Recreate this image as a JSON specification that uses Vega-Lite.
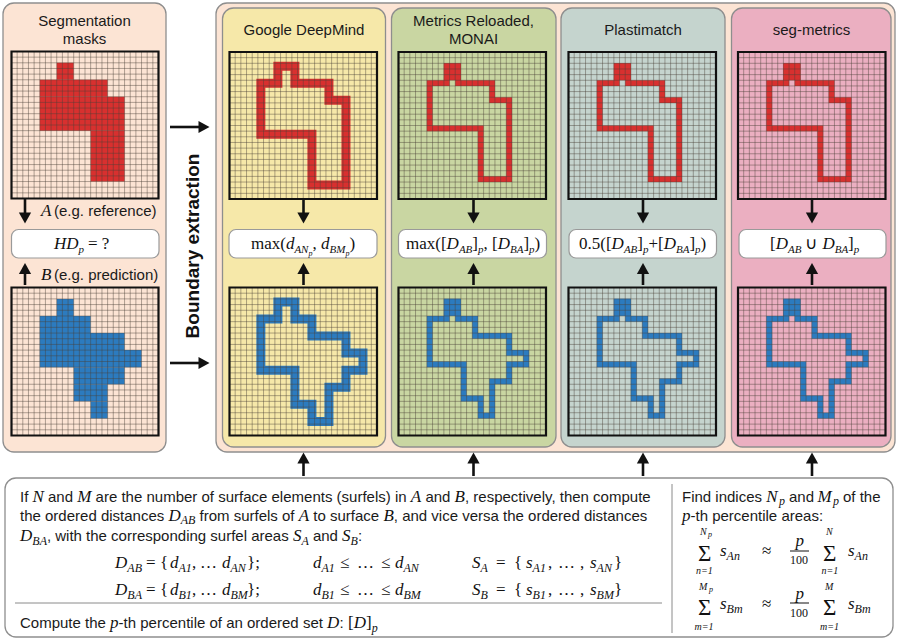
{
"$schema":"https://vega.github.io/schema/vega-lite/v6.json",
"width":897,"height":640,"padding":0,
"autosize":{"type":"fit","contains":"padding"},
"background":"#ffffff",
"config":{"view":{"stroke":null}},
"resolve":{"scale":{"x":"independent","y":"independent"}},
"datasets":{
"k":[{"k":0},{"k":1},{"k":2},{"k":3},{"k":4},{"k":5},{"k":6},{"k":7},{"k":8},{"k":9},{"k":10},{"k":11},{"k":12},{"k":13},{"k":14},{"k":15},{"k":16},{"k":17},{"k":18},{"k":19},{"k":20},{"k":21},{"k":22},{"k":23},{"k":24},{"k":25},{"k":26}],
"mask":[
{"m":"A","c0":8,"c1":11,"r0":2,"r1":5},{"m":"A","c0":5,"c1":17,"r0":5,"r1":8},{"m":"A","c0":5,"c1":20,"r0":8,"r1":14},{"m":"A","c0":14,"c1":20,"r0":14,"r1":23},
{"m":"B","c0":8,"c1":11,"r0":2,"r1":5},{"m":"B","c0":5,"c1":14,"r0":5,"r1":8},{"m":"B","c0":5,"c1":20,"r0":8,"r1":11},{"m":"B","c0":5,"c1":23,"r0":11,"r1":14},{"m":"B","c0":11,"c1":20,"r0":14,"r1":17},{"m":"B","c0":11,"c1":17,"r0":17,"r1":20},{"m":"B","c0":14,"c1":17,"r0":20,"r1":23}],
"outline":[
{"m":"A","i":0,"x":8,"y":2},{"m":"A","i":1,"x":11,"y":2},{"m":"A","i":2,"x":11,"y":5},{"m":"A","i":3,"x":17,"y":5},{"m":"A","i":4,"x":17,"y":8},{"m":"A","i":5,"x":20,"y":8},{"m":"A","i":6,"x":20,"y":23},{"m":"A","i":7,"x":14,"y":23},{"m":"A","i":8,"x":14,"y":14},{"m":"A","i":9,"x":5,"y":14},{"m":"A","i":10,"x":5,"y":5},{"m":"A","i":11,"x":8,"y":5},{"m":"A","i":12,"x":8,"y":2},
{"m":"B","i":0,"x":8,"y":2},{"m":"B","i":1,"x":11,"y":2},{"m":"B","i":2,"x":11,"y":5},{"m":"B","i":3,"x":14,"y":5},{"m":"B","i":4,"x":14,"y":8},{"m":"B","i":5,"x":20,"y":8},{"m":"B","i":6,"x":20,"y":11},{"m":"B","i":7,"x":23,"y":11},{"m":"B","i":8,"x":23,"y":14},{"m":"B","i":9,"x":20,"y":14},{"m":"B","i":10,"x":20,"y":17},{"m":"B","i":11,"x":17,"y":17},{"m":"B","i":12,"x":17,"y":23},{"m":"B","i":13,"x":14,"y":23},{"m":"B","i":14,"x":14,"y":20},{"m":"B","i":15,"x":11,"y":20},{"m":"B","i":16,"x":11,"y":14},{"m":"B","i":17,"x":5,"y":14},{"m":"B","i":18,"x":5,"y":5},{"m":"B","i":19,"x":8,"y":5},{"m":"B","i":20,"x":8,"y":2}],
"inner":[
{"m":"A","i":0,"x":8.5,"y":2.5},{"m":"A","i":1,"x":10.5,"y":2.5},{"m":"A","i":2,"x":10.5,"y":5.5},{"m":"A","i":3,"x":16.5,"y":5.5},{"m":"A","i":4,"x":16.5,"y":8.5},{"m":"A","i":5,"x":19.5,"y":8.5},{"m":"A","i":6,"x":19.5,"y":22.5},{"m":"A","i":7,"x":14.5,"y":22.5},{"m":"A","i":8,"x":14.5,"y":13.5},{"m":"A","i":9,"x":5.5,"y":13.5},{"m":"A","i":10,"x":5.5,"y":5.5},{"m":"A","i":11,"x":8.5,"y":5.5},{"m":"A","i":12,"x":8.5,"y":2.5},
{"m":"B","i":0,"x":8.5,"y":2.5},{"m":"B","i":1,"x":10.5,"y":2.5},{"m":"B","i":2,"x":10.5,"y":5.5},{"m":"B","i":3,"x":13.5,"y":5.5},{"m":"B","i":4,"x":13.5,"y":8.5},{"m":"B","i":5,"x":19.5,"y":8.5},{"m":"B","i":6,"x":19.5,"y":11.5},{"m":"B","i":7,"x":22.5,"y":11.5},{"m":"B","i":8,"x":22.5,"y":13.5},{"m":"B","i":9,"x":19.5,"y":13.5},{"m":"B","i":10,"x":19.5,"y":16.5},{"m":"B","i":11,"x":16.5,"y":16.5},{"m":"B","i":12,"x":16.5,"y":22.5},{"m":"B","i":13,"x":14.5,"y":22.5},{"m":"B","i":14,"x":14.5,"y":19.5},{"m":"B","i":15,"x":11.5,"y":19.5},{"m":"B","i":16,"x":11.5,"y":13.5},{"m":"B","i":17,"x":5.5,"y":13.5},{"m":"B","i":18,"x":5.5,"y":5.5},{"m":"B","i":19,"x":8.5,"y":5.5},{"m":"B","i":20,"x":8.5,"y":2.5}],
"panels":[
{"id":"Segmentation masks","x":3,"x2":166,"y":3,"y2":452},
{"id":"Boundary extraction","x":216,"x2":895,"y":3,"y2":452},
{"id":"Google DeepMind","x":222.5,"x2":385.5,"y":8,"y2":447},
{"id":"Metrics Reloaded, MONAI","x":391.5,"x2":556,"y":8,"y2":447},
{"id":"Plastimatch","x":561,"x2":725,"y":8,"y2":447},
{"id":"seg-metrics","x":731.5,"x2":891,"y":8,"y2":447},
{"id":"Definitions","x":5,"x2":893,"y":478,"y2":637}],
"boxes":[{"x":11.5,"x2":159,"y":229.5,"y2":258},{"x":229,"x2":377,"y":229.5,"y2":258},{"x":398.5,"x2":546.5,"y":229.5,"y2":258},{"x":569,"x2":716.5,"y":229.5,"y2":258},{"x":739,"x2":886,"y":229.5,"y2":258}],
"dividers":[{"x":15,"x2":662,"y":603,"y2":603},{"x":672,"x2":672,"y":484,"y2":633}],
"fracbars":[{"x":790,"x2":809,"y":551,"y2":551},{"x":790,"x2":809,"y":603,"y2":603}],
"shafts":[{"x":25,"y":199,"x2":25,"y2":213},{"x":25,"y":274,"x2":25,"y2":285},
{"x":303.5,"y":199,"x2":303.5,"y2":213},{"x":303.5,"y":274,"x2":303.5,"y2":285},
{"x":473.5,"y":199,"x2":473.5,"y2":213},{"x":473.5,"y":274,"x2":473.5,"y2":285},
{"x":643,"y":199,"x2":643,"y2":213},{"x":643,"y":274,"x2":643,"y2":285},
{"x":812,"y":199,"x2":812,"y2":213},{"x":812,"y":274,"x2":812,"y2":285},
{"x":170,"y":127,"x2":200,"y2":127},{"x":170,"y":363,"x2":200,"y2":363},
{"x":303.5,"y":462,"x2":303.5,"y2":476},{"x":473.5,"y":462,"x2":473.5,"y2":476},{"x":643,"y":462,"x2":643,"y2":476},{"x":812,"y":462,"x2":812,"y2":476}],
"heads":[{"x":25,"y":218,"d":"down"},{"x":25,"y":268.5,"d":"up"},
{"x":303.5,"y":218,"d":"down"},{"x":303.5,"y":268.5,"d":"up"},
{"x":473.5,"y":218,"d":"down"},{"x":473.5,"y":268.5,"d":"up"},
{"x":643,"y":218,"d":"down"},{"x":643,"y":268.5,"d":"up"},
{"x":812,"y":218,"d":"down"},{"x":812,"y":268.5,"d":"up"},
{"x":204,"y":127,"d":"right"},{"x":204,"y":363,"d":"right"},
{"x":303.5,"y":458,"d":"up"},{"x":473.5,"y":458,"d":"up"},{"x":643,"y":458,"d":"up"},{"x":812,"y":458,"d":"up"}],
"titles":[{"t":"Segmentation","x":84.5,"y":21},{"t":"masks","x":84.5,"y":39},{"t":"Google DeepMind","x":304,"y":30},{"t":"Metrics Reloaded,","x":473.5,"y":21},{"t":"MONAI","x":473.5,"y":39},{"t":"Plastimatch","x":643,"y":30},{"t":"seg-metrics","x":811.5,"y":30}],
"vtext":[{"t":"Boundary extraction","x":193,"y":246}],
"prose":[
{"t":"(e.g. reference)","x":54,"y":216},{"t":"(e.g. prediction)","x":54,"y":280},
{"t":"If","x":20,"y":502},{"t":"and","x":48,"y":502},{"t":"are the number of surface elements (surfels) in","x":95.6,"y":502},{"t":"and","x":425.4,"y":502},{"t":", respectively, then compute","x":465,"y":502},
{"t":"the ordered distances","x":20,"y":521},{"t":"from surfels of","x":199.5,"y":521},{"t":"to surface","x":313.3,"y":521},{"t":", and vice versa the ordered distances","x":393.8,"y":521},
{"t":", with the corresponding surfel areas","x":46.9,"y":541},{"t":"and","x":312.9,"y":541},{"t":":","x":357.9,"y":541},
{"t":"Compute the","x":20,"y":628},{"t":"-th percentile of an ordered set","x":118.6,"y":628},{"t":":","x":339.4,"y":628},
{"t":"Find indices","x":682,"y":502},{"t":"and","x":789,"y":502},{"t":"of the","x":843,"y":502},{"t":"-th percentile areas:","x":690.5,"y":521}],
"mi":[
{"t":"A","x":41,"y":216},{"t":"B","x":41,"y":280},
{"t":"N","x":32.5,"y":502},{"t":"M","x":77.2,"y":502},{"t":"A","x":410.8,"y":502},{"t":"B","x":454.6,"y":502},
{"t":"D","x":168.4,"y":521},{"t":"A","x":298.7,"y":521},{"t":"B","x":383.4,"y":521},
{"t":"D","x":20,"y":541},{"t":"S","x":292.9,"y":541},{"t":"S","x":342.1,"y":541},
{"t":"D","x":115,"y":568},{"t":"d","x":170,"y":568},{"t":"d","x":222,"y":568},{"t":"d","x":313,"y":568},{"t":"d","x":395,"y":568},{"t":"S","x":472,"y":568},{"t":"s","x":526,"y":568},{"t":"s","x":590,"y":568},
{"t":"D","x":115,"y":595},{"t":"d","x":170,"y":595},{"t":"d","x":222,"y":595},{"t":"d","x":313,"y":595},{"t":"d","x":395,"y":595},{"t":"S","x":472,"y":595},{"t":"s","x":526,"y":595},{"t":"s","x":590,"y":595},
{"t":"p","x":110.1,"y":628},{"t":"D","x":327.1,"y":628},{"t":"D","x":353.7,"y":628},
{"t":"N","x":766.2,"y":502},{"t":"M","x":817.5,"y":502},{"t":"p","x":682,"y":521},
{"t":"s","x":720,"y":556},{"t":"s","x":848,"y":556},{"t":"s","x":720,"y":609},{"t":"s","x":848,"y":609},{"t":"p","x":795.5,"y":546},{"t":"p","x":795.5,"y":599}],
"sub":[
{"t":"AB","x":180.7,"y":524},
{"t":"BA","x":32.3,"y":545},{"t":"A","x":301.4,"y":545},{"t":"B","x":350.6,"y":545},
{"t":"AB","x":127.3,"y":572},{"t":"A1","x":178.5,"y":572},{"t":"AN","x":230.5,"y":572},{"t":"A1","x":321.5,"y":572},{"t":"AN","x":403.5,"y":572},{"t":"A","x":480.5,"y":572},{"t":"A1","x":532.6,"y":572},{"t":"AN","x":596.6,"y":572},
{"t":"BA","x":127.3,"y":599},{"t":"B1","x":178.5,"y":599},{"t":"BM","x":230.5,"y":599},{"t":"B1","x":321.5,"y":599},{"t":"BM","x":403.5,"y":599},{"t":"B","x":480.5,"y":599},{"t":"B1","x":532.6,"y":599},{"t":"BM","x":596.6,"y":599},
{"t":"p","x":371.7,"y":632},
{"t":"p","x":779,"y":505},{"t":"p","x":833,"y":505},
{"t":"An","x":726.6,"y":560},{"t":"An","x":854.6,"y":560},{"t":"Bm","x":726.6,"y":613},{"t":"Bm","x":854.6,"y":613}],
"lim":[{"t":"N","x":700,"y":535},{"t":"n=1","x":696,"y":574},{"t":"N","x":826,"y":535},{"t":"n=1","x":821.5,"y":574},
{"t":"M","x":699,"y":590},{"t":"m=1","x":694.5,"y":630},{"t":"M","x":825,"y":590},{"t":"m=1","x":820,"y":630}],
"mr":[
{"t":"=","x":146,"y":568},{"t":"{","x":160,"y":568},{"t":",","x":192,"y":568},{"t":"\u2026","x":200,"y":568},{"t":"};","x":247,"y":568},{"t":"\u2264","x":340,"y":568},{"t":"\u2026","x":357,"y":568},{"t":"\u2264","x":381,"y":568},{"t":"=","x":496,"y":568},{"t":"{","x":514,"y":568},{"t":",","x":548,"y":568},{"t":"\u2026","x":558,"y":568},{"t":",","x":580,"y":568},{"t":"}","x":614,"y":568},
{"t":"=","x":146,"y":595},{"t":"{","x":160,"y":595},{"t":",","x":192,"y":595},{"t":"\u2026","x":200,"y":595},{"t":"};","x":247,"y":595},{"t":"\u2264","x":340,"y":595},{"t":"\u2026","x":357,"y":595},{"t":"\u2264","x":381,"y":595},{"t":"=","x":496,"y":595},{"t":"{","x":514,"y":595},{"t":",","x":548,"y":595},{"t":"\u2026","x":558,"y":595},{"t":",","x":580,"y":595},{"t":"}","x":614,"y":595},
{"t":"[","x":348,"y":628},{"t":"]","x":366,"y":628},
{"t":"\u2248","x":762,"y":556},{"t":"\u2248","x":762,"y":609}],
"sr":[{"t":"100","x":790,"y":564},{"t":"100","x":790,"y":617}],
"big":[{"t":"\u03a3","x":698,"y":561},{"t":"\u03a3","x":823,"y":561},{"t":"\u03a3","x":698,"y":615},{"t":"\u03a3","x":823,"y":615}],
"bmi":[{"t":"HD","x":54,"y":249},{"t":"d","x":285.9,"y":249},{"t":"d","x":321,"y":249},{"t":"D","x":446.6,"y":249},{"t":"D","x":497.7,"y":249},{"t":"D","x":611.6,"y":249},{"t":"D","x":663.7,"y":249},{"t":"D","x":775.7,"y":249},{"t":"D","x":822.4,"y":249}],
"bmr":[{"t":"= ?","x":88,"y":249},{"t":"max(","x":251,"y":249},{"t":",","x":312.5,"y":249},{"t":")","x":349.4,"y":249},
{"t":"max([","x":406,"y":249},{"t":"]","x":472.3,"y":249},{"t":", [","x":483.5,"y":249},{"t":"]","x":523.4,"y":249},{"t":")","x":534.6,"y":249},
{"t":"0.5([","x":579,"y":249},{"t":"]","x":637.3,"y":249},{"t":"+[","x":648.5,"y":249},{"t":"]","x":689.4,"y":249},{"t":")","x":700.6,"y":249},
{"t":"[","x":770,"y":249},{"t":"\u222a","x":805,"y":249},{"t":"]","x":848.1,"y":249}],
"bsub":[{"t":"p","x":78.5,"y":253},{"t":"AN","x":294.4,"y":253},{"t":"BM","x":329.5,"y":253},{"t":"AB","x":458.9,"y":253},{"t":"p","x":478,"y":253},{"t":"BA","x":510,"y":253},{"t":"p","x":529.1,"y":253},{"t":"AB","x":623.9,"y":253},{"t":"p","x":643,"y":253},{"t":"BA","x":676,"y":253},{"t":"p","x":695.1,"y":253},{"t":"AB","x":788,"y":253},{"t":"BA","x":834.7,"y":253},{"t":"p","x":853.8,"y":253}],
"bss":[{"t":"p","x":308.5,"y":255.5},{"t":"p","x":345.4,"y":255.5},{"t":"p","x":708,"y":537},{"t":"p","x":709,"y":592}]
},
"layer":[
{"encoding":{"x":{"field":"x","type":"quantitative","scale":{"domain":[0,897],"range":[0,897],"nice":false,"zero":false},"axis":null},"y":{"field":"y","type":"quantitative","scale":{"domain":[0,640],"range":[0,640],"nice":false,"zero":false},"axis":null}},
 "layer":[
 {"data":{"name":"panels"},"mark":{"type":"rect","cornerRadius":11,"stroke":"#8e8e8e","strokeWidth":1.3},"encoding":{"x2":{"field":"x2"},"y2":{"field":"y2"},"fill":{"field":"id","type":"nominal","scale":{"domain":["Segmentation masks","Boundary extraction","Google DeepMind","Metrics Reloaded, MONAI","Plastimatch","seg-metrics","Definitions"],"range":["#fce4d4","#fce4d4","#f6e8a9","#c9d6a2","#c5d4ce","#ebafc1","#ffffff"]},"legend":null}}}
 ]},
{"layer":[
 {"data":{"name":"mask"},"transform":[{"filter":"datum.m==='A'"}],"mark":{"type":"rect","color":"#d8302f"},"encoding":{"x":{"field":"c0","type":"quantitative","scale":{"domain":[0,26],"range":[11.5,158.5],"nice":false,"zero":false},"axis":null},"x2":{"field":"c1"},"y":{"field":"r0","type":"quantitative","scale":{"domain":[0,26],"range":[51.5,198.5],"nice":false,"zero":false},"axis":null},"y2":{"field":"r1"}}},
 {"data":{"name":"k"},"mark":{"type":"rule","color":"#4a4038","strokeWidth":0.8,"opacity":0.55},"encoding":{"x":{"field":"k","type":"quantitative"},"y":{"datum":0,"type":"quantitative"},"y2":{"datum":26}}},
 {"data":{"name":"k"},"mark":{"type":"rule","color":"#4a4038","strokeWidth":0.8,"opacity":0.55},"encoding":{"y":{"field":"k","type":"quantitative"},"x":{"datum":0,"type":"quantitative"},"x2":{"datum":26}}},
 {"data":{"values":[{}]},"mark":{"type":"rect","filled":false,"stroke":"#111111","strokeWidth":2.2},"encoding":{"x":{"datum":0,"type":"quantitative"},"x2":{"datum":26},"y":{"datum":0,"type":"quantitative"},"y2":{"datum":26}}}
]},
{"layer":[
 {"data":{"name":"mask"},"transform":[{"filter":"datum.m==='B'"}],"mark":{"type":"rect","color":"#2c7bbf"},"encoding":{"x":{"field":"c0","type":"quantitative","scale":{"domain":[0,26],"range":[11.5,158.5],"nice":false,"zero":false},"axis":null},"x2":{"field":"c1"},"y":{"field":"r0","type":"quantitative","scale":{"domain":[0,26],"range":[287.5,435.5],"nice":false,"zero":false},"axis":null},"y2":{"field":"r1"}}},
 {"data":{"name":"k"},"mark":{"type":"rule","color":"#4a4038","strokeWidth":0.8,"opacity":0.55},"encoding":{"x":{"field":"k","type":"quantitative"},"y":{"datum":0,"type":"quantitative"},"y2":{"datum":26}}},
 {"data":{"name":"k"},"mark":{"type":"rule","color":"#4a4038","strokeWidth":0.8,"opacity":0.55},"encoding":{"y":{"field":"k","type":"quantitative"},"x":{"datum":0,"type":"quantitative"},"x2":{"datum":26}}},
 {"data":{"values":[{}]},"mark":{"type":"rect","filled":false,"stroke":"#111111","strokeWidth":2.2},"encoding":{"x":{"datum":0,"type":"quantitative"},"x2":{"datum":26},"y":{"datum":0,"type":"quantitative"},"y2":{"datum":26}}}
]},
{"layer":[
 {"data":{"name":"outline"},"transform":[{"filter":"datum.m==='A'"}],"mark":{"type":"line","color":"#d8302f","strokeWidth":9,"strokeJoin":"miter","strokeCap":"square","xOffset":3,"yOffset":3},"encoding":{"x":{"field":"x","type":"quantitative","scale":{"domain":[0,26],"range":[229.5,377],"nice":false,"zero":false},"axis":null},"y":{"field":"y","type":"quantitative","scale":{"domain":[0,26],"range":[52,199],"nice":false,"zero":false},"axis":null},"order":{"field":"i","type":"quantitative"}}},
 {"data":{"name":"k"},"mark":{"type":"rule","color":"#4a4038","strokeWidth":0.8,"opacity":0.55},"encoding":{"x":{"field":"k","type":"quantitative"},"y":{"datum":0,"type":"quantitative"},"y2":{"datum":26}}},
 {"data":{"name":"k"},"mark":{"type":"rule","color":"#4a4038","strokeWidth":0.8,"opacity":0.55},"encoding":{"y":{"field":"k","type":"quantitative"},"x":{"datum":0,"type":"quantitative"},"x2":{"datum":26}}},
 {"data":{"values":[{}]},"mark":{"type":"rect","filled":false,"stroke":"#111111","strokeWidth":2.2},"encoding":{"x":{"datum":0,"type":"quantitative"},"x2":{"datum":26},"y":{"datum":0,"type":"quantitative"},"y2":{"datum":26}}}
]},
{"layer":[
 {"data":{"name":"outline"},"transform":[{"filter":"datum.m==='B'"}],"mark":{"type":"line","color":"#2c7bbf","strokeWidth":9,"strokeJoin":"miter","strokeCap":"square","xOffset":3,"yOffset":3},"encoding":{"x":{"field":"x","type":"quantitative","scale":{"domain":[0,26],"range":[229.5,377],"nice":false,"zero":false},"axis":null},"y":{"field":"y","type":"quantitative","scale":{"domain":[0,26],"range":[287.5,435.5],"nice":false,"zero":false},"axis":null},"order":{"field":"i","type":"quantitative"}}},
 {"data":{"name":"k"},"mark":{"type":"rule","color":"#4a4038","strokeWidth":0.8,"opacity":0.55},"encoding":{"x":{"field":"k","type":"quantitative"},"y":{"datum":0,"type":"quantitative"},"y2":{"datum":26}}},
 {"data":{"name":"k"},"mark":{"type":"rule","color":"#4a4038","strokeWidth":0.8,"opacity":0.55},"encoding":{"y":{"field":"k","type":"quantitative"},"x":{"datum":0,"type":"quantitative"},"x2":{"datum":26}}},
 {"data":{"values":[{}]},"mark":{"type":"rect","filled":false,"stroke":"#111111","strokeWidth":2.2},"encoding":{"x":{"datum":0,"type":"quantitative"},"x2":{"datum":26},"y":{"datum":0,"type":"quantitative"},"y2":{"datum":26}}}
]},
{"layer":[
 {"data":{"name":"inner"},"transform":[{"filter":"datum.m==='A'"}],"mark":{"type":"line","color":"#d8302f","strokeWidth":5.8,"strokeJoin":"miter","strokeCap":"square"},"encoding":{"x":{"field":"x","type":"quantitative","scale":{"domain":[0,26],"range":[398.5,546],"nice":false,"zero":false},"axis":null},"y":{"field":"y","type":"quantitative","scale":{"domain":[0,26],"range":[52,199],"nice":false,"zero":false},"axis":null},"order":{"field":"i","type":"quantitative"}}},
 {"data":{"name":"mask"},"transform":[{"filter":"datum.m==='A' && datum.r0===2"}],"mark":{"type":"rect","color":"#d8302f"},"encoding":{"x":{"field":"c0","type":"quantitative"},"x2":{"field":"c1"},"y":{"field":"r0","type":"quantitative"},"y2":{"field":"r1"}}},
 {"data":{"name":"k"},"mark":{"type":"rule","color":"#4a4038","strokeWidth":0.8,"opacity":0.55},"encoding":{"x":{"field":"k","type":"quantitative"},"y":{"datum":0,"type":"quantitative"},"y2":{"datum":26}}},
 {"data":{"name":"k"},"mark":{"type":"rule","color":"#4a4038","strokeWidth":0.8,"opacity":0.55},"encoding":{"y":{"field":"k","type":"quantitative"},"x":{"datum":0,"type":"quantitative"},"x2":{"datum":26}}},
 {"data":{"values":[{}]},"mark":{"type":"rect","filled":false,"stroke":"#111111","strokeWidth":2.2},"encoding":{"x":{"datum":0,"type":"quantitative"},"x2":{"datum":26},"y":{"datum":0,"type":"quantitative"},"y2":{"datum":26}}}
]},
{"layer":[
 {"data":{"name":"inner"},"transform":[{"filter":"datum.m==='B'"}],"mark":{"type":"line","color":"#2c7bbf","strokeWidth":5.8,"strokeJoin":"miter","strokeCap":"square"},"encoding":{"x":{"field":"x","type":"quantitative","scale":{"domain":[0,26],"range":[398.5,546],"nice":false,"zero":false},"axis":null},"y":{"field":"y","type":"quantitative","scale":{"domain":[0,26],"range":[287.5,435.5],"nice":false,"zero":false},"axis":null},"order":{"field":"i","type":"quantitative"}}},
 {"data":{"name":"mask"},"transform":[{"filter":"datum.m==='B' && datum.r0===2"}],"mark":{"type":"rect","color":"#2c7bbf"},"encoding":{"x":{"field":"c0","type":"quantitative"},"x2":{"field":"c1"},"y":{"field":"r0","type":"quantitative"},"y2":{"field":"r1"}}},
 {"data":{"name":"k"},"mark":{"type":"rule","color":"#4a4038","strokeWidth":0.8,"opacity":0.55},"encoding":{"x":{"field":"k","type":"quantitative"},"y":{"datum":0,"type":"quantitative"},"y2":{"datum":26}}},
 {"data":{"name":"k"},"mark":{"type":"rule","color":"#4a4038","strokeWidth":0.8,"opacity":0.55},"encoding":{"y":{"field":"k","type":"quantitative"},"x":{"datum":0,"type":"quantitative"},"x2":{"datum":26}}},
 {"data":{"values":[{}]},"mark":{"type":"rect","filled":false,"stroke":"#111111","strokeWidth":2.2},"encoding":{"x":{"datum":0,"type":"quantitative"},"x2":{"datum":26},"y":{"datum":0,"type":"quantitative"},"y2":{"datum":26}}}
]},
{"layer":[
 {"data":{"name":"inner"},"transform":[{"filter":"datum.m==='A'"}],"mark":{"type":"line","color":"#d8302f","strokeWidth":5.8,"strokeJoin":"miter","strokeCap":"square"},"encoding":{"x":{"field":"x","type":"quantitative","scale":{"domain":[0,26],"range":[568.5,716],"nice":false,"zero":false},"axis":null},"y":{"field":"y","type":"quantitative","scale":{"domain":[0,26],"range":[52,199],"nice":false,"zero":false},"axis":null},"order":{"field":"i","type":"quantitative"}}},
 {"data":{"name":"mask"},"transform":[{"filter":"datum.m==='A' && datum.r0===2"}],"mark":{"type":"rect","color":"#d8302f"},"encoding":{"x":{"field":"c0","type":"quantitative"},"x2":{"field":"c1"},"y":{"field":"r0","type":"quantitative"},"y2":{"field":"r1"}}},
 {"data":{"name":"k"},"mark":{"type":"rule","color":"#4a4038","strokeWidth":0.8,"opacity":0.55},"encoding":{"x":{"field":"k","type":"quantitative"},"y":{"datum":0,"type":"quantitative"},"y2":{"datum":26}}},
 {"data":{"name":"k"},"mark":{"type":"rule","color":"#4a4038","strokeWidth":0.8,"opacity":0.55},"encoding":{"y":{"field":"k","type":"quantitative"},"x":{"datum":0,"type":"quantitative"},"x2":{"datum":26}}},
 {"data":{"values":[{}]},"mark":{"type":"rect","filled":false,"stroke":"#111111","strokeWidth":2.2},"encoding":{"x":{"datum":0,"type":"quantitative"},"x2":{"datum":26},"y":{"datum":0,"type":"quantitative"},"y2":{"datum":26}}}
]},
{"layer":[
 {"data":{"name":"inner"},"transform":[{"filter":"datum.m==='B'"}],"mark":{"type":"line","color":"#2c7bbf","strokeWidth":5.8,"strokeJoin":"miter","strokeCap":"square"},"encoding":{"x":{"field":"x","type":"quantitative","scale":{"domain":[0,26],"range":[568.5,716],"nice":false,"zero":false},"axis":null},"y":{"field":"y","type":"quantitative","scale":{"domain":[0,26],"range":[287.5,435.5],"nice":false,"zero":false},"axis":null},"order":{"field":"i","type":"quantitative"}}},
 {"data":{"name":"mask"},"transform":[{"filter":"datum.m==='B' && datum.r0===2"}],"mark":{"type":"rect","color":"#2c7bbf"},"encoding":{"x":{"field":"c0","type":"quantitative"},"x2":{"field":"c1"},"y":{"field":"r0","type":"quantitative"},"y2":{"field":"r1"}}},
 {"data":{"name":"k"},"mark":{"type":"rule","color":"#4a4038","strokeWidth":0.8,"opacity":0.55},"encoding":{"x":{"field":"k","type":"quantitative"},"y":{"datum":0,"type":"quantitative"},"y2":{"datum":26}}},
 {"data":{"name":"k"},"mark":{"type":"rule","color":"#4a4038","strokeWidth":0.8,"opacity":0.55},"encoding":{"y":{"field":"k","type":"quantitative"},"x":{"datum":0,"type":"quantitative"},"x2":{"datum":26}}},
 {"data":{"values":[{}]},"mark":{"type":"rect","filled":false,"stroke":"#111111","strokeWidth":2.2},"encoding":{"x":{"datum":0,"type":"quantitative"},"x2":{"datum":26},"y":{"datum":0,"type":"quantitative"},"y2":{"datum":26}}}
]},
{"layer":[
 {"data":{"name":"inner"},"transform":[{"filter":"datum.m==='A'"}],"mark":{"type":"line","color":"#d8302f","strokeWidth":5.8,"strokeJoin":"miter","strokeCap":"square"},"encoding":{"x":{"field":"x","type":"quantitative","scale":{"domain":[0,26],"range":[738,885.5],"nice":false,"zero":false},"axis":null},"y":{"field":"y","type":"quantitative","scale":{"domain":[0,26],"range":[52,199],"nice":false,"zero":false},"axis":null},"order":{"field":"i","type":"quantitative"}}},
 {"data":{"name":"mask"},"transform":[{"filter":"datum.m==='A' && datum.r0===2"}],"mark":{"type":"rect","color":"#d8302f"},"encoding":{"x":{"field":"c0","type":"quantitative"},"x2":{"field":"c1"},"y":{"field":"r0","type":"quantitative"},"y2":{"field":"r1"}}},
 {"data":{"name":"k"},"mark":{"type":"rule","color":"#4a4038","strokeWidth":0.8,"opacity":0.55},"encoding":{"x":{"field":"k","type":"quantitative"},"y":{"datum":0,"type":"quantitative"},"y2":{"datum":26}}},
 {"data":{"name":"k"},"mark":{"type":"rule","color":"#4a4038","strokeWidth":0.8,"opacity":0.55},"encoding":{"y":{"field":"k","type":"quantitative"},"x":{"datum":0,"type":"quantitative"},"x2":{"datum":26}}},
 {"data":{"values":[{}]},"mark":{"type":"rect","filled":false,"stroke":"#111111","strokeWidth":2.2},"encoding":{"x":{"datum":0,"type":"quantitative"},"x2":{"datum":26},"y":{"datum":0,"type":"quantitative"},"y2":{"datum":26}}}
]},
{"layer":[
 {"data":{"name":"inner"},"transform":[{"filter":"datum.m==='B'"}],"mark":{"type":"line","color":"#2c7bbf","strokeWidth":5.8,"strokeJoin":"miter","strokeCap":"square"},"encoding":{"x":{"field":"x","type":"quantitative","scale":{"domain":[0,26],"range":[738,885.5],"nice":false,"zero":false},"axis":null},"y":{"field":"y","type":"quantitative","scale":{"domain":[0,26],"range":[287.5,435.5],"nice":false,"zero":false},"axis":null},"order":{"field":"i","type":"quantitative"}}},
 {"data":{"name":"mask"},"transform":[{"filter":"datum.m==='B' && datum.r0===2"}],"mark":{"type":"rect","color":"#2c7bbf"},"encoding":{"x":{"field":"c0","type":"quantitative"},"x2":{"field":"c1"},"y":{"field":"r0","type":"quantitative"},"y2":{"field":"r1"}}},
 {"data":{"name":"k"},"mark":{"type":"rule","color":"#4a4038","strokeWidth":0.8,"opacity":0.55},"encoding":{"x":{"field":"k","type":"quantitative"},"y":{"datum":0,"type":"quantitative"},"y2":{"datum":26}}},
 {"data":{"name":"k"},"mark":{"type":"rule","color":"#4a4038","strokeWidth":0.8,"opacity":0.55},"encoding":{"y":{"field":"k","type":"quantitative"},"x":{"datum":0,"type":"quantitative"},"x2":{"datum":26}}},
 {"data":{"values":[{}]},"mark":{"type":"rect","filled":false,"stroke":"#111111","strokeWidth":2.2},"encoding":{"x":{"datum":0,"type":"quantitative"},"x2":{"datum":26},"y":{"datum":0,"type":"quantitative"},"y2":{"datum":26}}}
]},
{"encoding":{"x":{"field":"x","type":"quantitative","scale":{"domain":[0,897],"range":[0,897],"nice":false,"zero":false},"axis":null},"y":{"field":"y","type":"quantitative","scale":{"domain":[0,640],"range":[0,640],"nice":false,"zero":false},"axis":null}},
 "layer":[
 {"data":{"name":"boxes"},"mark":{"type":"rect","cornerRadius":7,"fill":"#ffffff","stroke":"#9a9a9a","strokeWidth":1.2},"encoding":{"x2":{"field":"x2"},"y2":{"field":"y2"}}},
 {"data":{"name":"dividers"},"mark":{"type":"rule","color":"#8a8a8a","strokeWidth":1},"encoding":{"x2":{"field":"x2"},"y2":{"field":"y2"}}},
 {"data":{"name":"fracbars"},"mark":{"type":"rule","color":"#111111","strokeWidth":1},"encoding":{"x2":{"field":"x2"},"y2":{"field":"y2"}}},
 {"data":{"name":"shafts"},"mark":{"type":"rule","color":"#111111","strokeWidth":2.6},"encoding":{"x2":{"field":"x2"},"y2":{"field":"y2"}}},
 {"data":{"name":"heads"},"mark":{"type":"point","filled":true,"color":"#111111","opacity":1,"size":150},"encoding":{"shape":{"field":"d","type":"nominal","scale":{"domain":["down","up","right"],"range":["M-1,-0.9L1,-0.9L0,0.9Z","M-1,0.9L1,0.9L0,-0.9Z","M-0.9,-1L0.9,0L-0.9,1Z"]},"legend":null}}},
 {"data":{"name":"titles"},"mark":{"type":"text","font":"Liberation Sans","fontSize":15,"align":"center","baseline":"middle","color":"#1a1a1a"},"encoding":{"text":{"field":"t"}}},
 {"data":{"name":"vtext"},"mark":{"type":"text","font":"Liberation Sans","fontSize":19,"fontWeight":"bold","angle":270,"align":"center","baseline":"middle","color":"#111111"},"encoding":{"text":{"field":"t"}}},
 {"data":{"name":"prose"},"mark":{"type":"text","font":"Liberation Sans","fontSize":15,"align":"left","baseline":"alphabetic","color":"#1a1a1a"},"encoding":{"text":{"field":"t"}}},
 {"data":{"name":"mi"},"mark":{"type":"text","font":"Liberation Serif","fontStyle":"italic","fontSize":17,"align":"left","baseline":"alphabetic","color":"#111111"},"encoding":{"text":{"field":"t"}}},
 {"data":{"name":"mr"},"mark":{"type":"text","font":"Liberation Serif","fontSize":17,"align":"left","baseline":"alphabetic","color":"#111111"},"encoding":{"text":{"field":"t"}}},
 {"data":{"name":"sub"},"mark":{"type":"text","font":"Liberation Serif","fontStyle":"italic","fontSize":12,"align":"left","baseline":"alphabetic","color":"#111111"},"encoding":{"text":{"field":"t"}}},
 {"data":{"name":"lim"},"mark":{"type":"text","font":"Liberation Serif","fontStyle":"italic","fontSize":10,"align":"left","baseline":"alphabetic","color":"#111111"},"encoding":{"text":{"field":"t"}}},
 {"data":{"name":"sr"},"mark":{"type":"text","font":"Liberation Serif","fontSize":12,"align":"left","baseline":"alphabetic","color":"#111111"},"encoding":{"text":{"field":"t"}}},
 {"data":{"name":"big"},"mark":{"type":"text","font":"Liberation Serif","fontSize":23,"align":"left","baseline":"alphabetic","color":"#111111"},"encoding":{"text":{"field":"t"}}},
 {"data":{"name":"bmi"},"mark":{"type":"text","font":"Liberation Serif","fontStyle":"italic","fontSize":17,"align":"left","baseline":"alphabetic","color":"#111111"},"encoding":{"text":{"field":"t"}}},
 {"data":{"name":"bmr"},"mark":{"type":"text","font":"Liberation Serif","fontSize":17,"align":"left","baseline":"alphabetic","color":"#111111"},"encoding":{"text":{"field":"t"}}},
 {"data":{"name":"bsub"},"mark":{"type":"text","font":"Liberation Serif","fontStyle":"italic","fontSize":11,"align":"left","baseline":"alphabetic","color":"#111111"},"encoding":{"text":{"field":"t"}}},
 {"data":{"name":"bss"},"mark":{"type":"text","font":"Liberation Serif","fontStyle":"italic","fontSize":8,"align":"left","baseline":"alphabetic","color":"#111111"},"encoding":{"text":{"field":"t"}}}
 ]}
]
}
